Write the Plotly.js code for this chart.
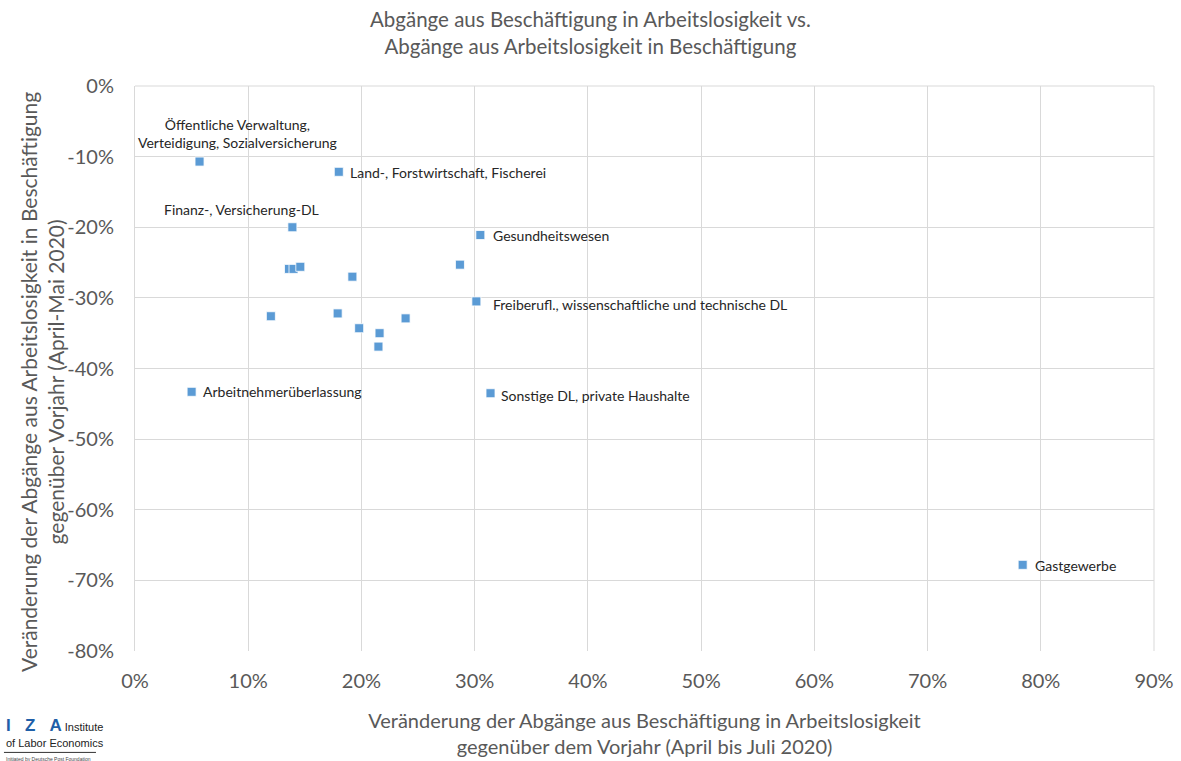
<!DOCTYPE html>
<html>
<head>
<meta charset="utf-8">
<script src="https://cdn.plot.ly/plotly-3.0.1.min.js"></script>
<style>
html,body{margin:0;padding:0;background:#fff;}
#chart{width:1181px;height:761px;}
</style>
</head>
<body>
<div id="chart"></div>
<script>
// Data (fractions)
const xVals = [0.057, 0.180, 0.139, 0.305, 0.136, 0.140, 0.146, 0.192, 0.287, 0.3015, 0.120, 0.179, 0.198, 0.216, 0.215, 0.239, 0.050, 0.314, 0.784];
const yVals = [-0.107, -0.1215, -0.200, -0.211, -0.259, -0.259, -0.256, -0.270, -0.253, -0.305, -0.326, -0.322, -0.343, -0.350, -0.369, -0.329, -0.433, -0.435, -0.678];
const labels = ["Öffentliche Verwaltung,<br>Verteidigung, Sozialversicherung", "Land-, Forstwirtschaft, Fischerei", "Finanz-, Versicherung-DL", "Gesundheitswesen", "", "", "", "", "", "Freiberufl., wissenschaftliche und technische DL", "", "", "", "", "", "", "Arbeitnehmerüberlassung", "Sonstige DL, private Haushalte", "Gastgewerbe"];
const xTickVals = [0, 0.1, 0.2, 0.3, 0.4, 0.5, 0.6, 0.7, 0.8, 0.9];
const xTickText = ["0%", "10%", "20%", "30%", "40%", "50%", "60%", "70%", "80%", "90%"];
const yTickVals = [0, -0.1, -0.2, -0.3, -0.4, -0.5, -0.6, -0.7, -0.8];
const yTickText = ["0%", "-10%", "-20%", "-30%", "-40%", "-50%", "-60%", "-70%", "-80%"];

// label placement styles (per index)
const placeAbove = {0: {xshift: 38, yshift: 9}, 2: {xshift: -51, yshift: 7}};
const rightShift = {1: [9, -1], 3: [11, 0], 9: [15, -3], 16: [9, 0], 17: [8, -2], 18: [10, -1]};

const FONT = "Lato, 'Open Sans', 'Liberation Sans', sans-serif";
const LOGOFONT = "'Liberation Sans', Arial, sans-serif";
const annotations = [];
labels.forEach((t, i) => {
  if (!t) return;
  if (placeAbove[i]) {
    annotations.push({x: xVals[i], y: yVals[i], xref: 'x', yref: 'y', text: t, showarrow: false,
      xanchor: 'center', yanchor: 'bottom', xshift: placeAbove[i].xshift, yshift: placeAbove[i].yshift,
      font: {family: FONT, size: 14, color: '#262626'}, align: 'center'});
  } else {
    const s = rightShift[i] || [9, 0];
    annotations.push({x: xVals[i], y: yVals[i], xref: 'x', yref: 'y', text: t, showarrow: false,
      xanchor: 'left', yanchor: 'middle', xshift: s[0], yshift: s[1],
      font: {family: FONT, size: 14, color: '#262626'}});
  }
});

// Title as annotation (container-centred)
annotations.push({xref: 'paper', yref: 'paper', x: (590 - 135) / 1019, y: 1 + (86 - 5) / 565, xanchor: 'center', yanchor: 'top',
  showarrow: false, align: 'center',
  text: "Abgänge aus Beschäftigung in Arbeitslosigkeit vs.<br>Abgänge aus Arbeitslosigkeit in Beschäftigung",
  font: {family: FONT, size: 20.5, color: '#595959'}});

// Y-axis title as rotated annotation
annotations.push({xref: 'paper', yref: 'paper', x: (42 - 135) / 1019, y: (651 - 382) / 565, xanchor: 'center', yanchor: 'middle',
  showarrow: false, align: 'center', textangle: -90,
  text: "Veränderung der Abgänge aus Arbeitslosigkeit in Beschäftigung<br>gegenüber Vorjahr (April-Mai 2020)",
  font: {family: FONT, size: 21, color: '#595959'}});

// IZA logo
annotations.push({xref: 'paper', yref: 'paper', x: -0.1286, y: -0.111, xanchor: 'left', yanchor: 'top', showarrow: false,
  text: "<b><span style='color:#1f5fa8;font-size:17px'>I&nbsp;&nbsp;&nbsp;Z&nbsp;&nbsp;&nbsp;A</span></b> <span style='font-size:11px'>Institute</span>",
  font: {family: LOGOFONT, size: 11, color: '#222'}});
annotations.push({xref: 'paper', yref: 'paper', x: -0.1286, y: -0.148, xanchor: 'left', yanchor: 'top', showarrow: false,
  text: "of Labor Economics", font: {family: LOGOFONT, size: 11, color: '#222'}});
annotations.push({xref: 'paper', yref: 'paper', x: -0.1286, y: -0.182, xanchor: 'left', yanchor: 'top', showarrow: false,
  text: "Initiated by Deutsche Post Foundation", font: {family: LOGOFONT, size: 5, color: '#444'}});

const trace = {
  x: xVals, y: yVals, type: 'scatter', mode: 'markers',
  marker: {symbol: 'square', size: 9, color: '#5b9bd5', line: {color: '#ffffff', width: 0.8}},
  hoverinfo: 'x+y'
};

const layout = {
  width: 1181, height: 761,
  margin: {l: 135, r: 27, t: 86, b: 110},
  paper_bgcolor: '#fff', plot_bgcolor: '#fff',
  font: {family: FONT, color: '#595959'},
  showlegend: false,
  xaxis: {range: [0, 0.9], tickvals: xTickVals, ticktext: xTickText, showgrid: true, gridcolor: '#d9d9d9', gridwidth: 1,
    zeroline: false, showline: false, ticks: '', ticklabelstandoff: 16, tickfont: {size: 20, color: '#595959'},
    title: {text: "Veränderung der Abgänge aus Beschäftigung in Arbeitslosigkeit<br>gegenüber dem Vorjahr (April bis Juli 2020)",
      font: {size: 20, color: '#595959'}, standoff: 22}, fixedrange: true, automargin: false},
  yaxis: {range: [-0.8, 0], tickvals: yTickVals, ticktext: yTickText, showgrid: true, gridcolor: '#d9d9d9', gridwidth: 1,
    zeroline: false, showline: true, linecolor: '#d9d9d9', ticks: '', ticklabelstandoff: 16, tickfont: {size: 20, color: '#595959'},
    fixedrange: true, automargin: false},
  annotations: annotations,
  shapes: [
    {type: 'line', xref: 'paper', yref: 'paper', x0: 0, x1: 1, y0: 1, y1: 1, line: {color: '#d9d9d9', width: 1}},
    {type: 'line', xref: 'paper', yref: 'paper', x0: 1, x1: 1, y0: 0, y1: 1, line: {color: '#d9d9d9', width: 1}},
    {type: 'line', xref: 'paper', yref: 'paper', x0: -0.1286, x1: -0.0383, y0: -0.1795, y1: -0.1795, line: {color: '#333', width: 1}}
  ]
};

Plotly.newPlot('chart', [trace], layout, {displayModeBar: false, staticPlot: true});
</script>
</body>
</html>
